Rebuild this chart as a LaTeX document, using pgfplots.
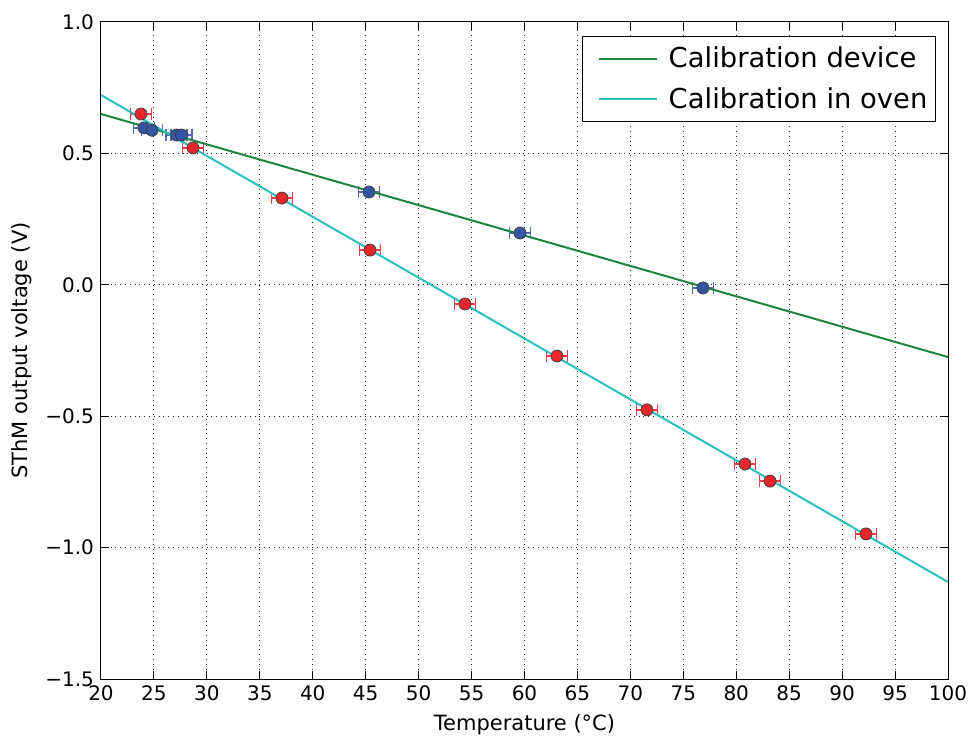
\documentclass[border=0pt]{standalone}
\usepackage{fontspec}
\setmainfont{DejaVu Sans}
\usepackage{pgfplots}
\pgfplotsset{compat=1.18}

\definecolor{devgreen}{RGB}{30,132,66}
\definecolor{ovencyan}{RGB}{40,192,192}
\definecolor{ptred}{RGB}{232,38,42}
\definecolor{ptblue}{RGB}{52,84,165}
\definecolor{barred}{RGB}{240,60,70}
\definecolor{barblue}{RGB}{85,105,190}

\begin{document}
\begin{tikzpicture}
\begin{axis}[
    scale only axis,
    width=423.5pt,
    height=328.5pt,
    xmin=20, xmax=100,
    ymin=-1.5, ymax=1.0,
    xtick={20,25,...,100},
    ytick={-1.5,-1.0,-0.5,0,0.5,1.0},
    yticklabels={−1.5,−1.0,−0.5,0.0,0.5,1.0},
    /pgf/number format/assume math mode=true,
    tick label style={font=\fontsize{10}{12}\selectfont},
    label style={font=\fontsize{10.5}{12}\selectfont},
    xlabel={Temperature (°C)},
    ylabel={SThM output voltage (V)},
    tick align=inside,
    major tick length=4pt,
    axis line style={black, line width=0.5pt},
    tick style={black, line width=0.5pt},
    grid=major,
    grid style={black!85, dotted, line width=0.5pt},
    legend cell align=left,
    legend style={at={(1,1)}, anchor=north east, xshift=-6pt, yshift=-7pt,
        draw=black, line width=0.6pt, font=\fontsize{13.7}{16}\selectfont,
        inner xsep=7.5pt, inner ysep=3pt, row sep=4.5pt,
        nodes={inner xsep=5.5pt}},
    legend image code/.code={%
        \path (0pt,0cm) -- (22pt,0cm);
        \draw[#1] (9pt,0cm) -- (29pt,0cm);},
]
% oven points
\addplot+[only marks, forget plot, mark=*, mark size=3pt,
    mark options={fill=ptred, draw=black!75, line width=0.4pt},
    error bars/.cd, x dir=both, x explicit, error mark=|,
    error bar style={barred, line width=0.8pt},
    error mark options={barred, mark size=3pt, line width=0.8pt}]
    coordinates {
(23.78,0.650) +- (1.0,0)
(28.69,0.521) +- (1.0,0)
(37.09,0.330) +- (1.0,0)
(45.41,0.132) +- (1.0,0)
(54.38,-0.073) +- (1.0,0)
(63.07,-0.271) +- (1.0,0)
(71.57,-0.476) +- (1.0,0)
(80.83,-0.682) +- (1.0,0)
(83.19,-0.747) +- (1.0,0)
(92.26,-0.948) +- (1.0,0)
};
% device points
\addplot+[only marks, forget plot, mark=*, mark size=3pt,
    mark options={fill=ptblue, draw=black!75, line width=0.4pt},
    error bars/.cd, x dir=both, x explicit, error mark=|,
    error bar style={barblue, line width=0.8pt},
    error mark options={barblue, mark size=3pt, line width=0.8pt}]
    coordinates {
(24.06,0.597) +- (1.0,0)
(24.82,0.588) +- (1.0,0)
(27.15,0.570) +- (1.0,0)
(27.60,0.570) +- (1.0,0)
(45.31,0.353) +- (1.0,0)
(59.58,0.197) +- (1.0,0)
(76.86,-0.012) +- (1.0,0)
};
% fitted lines
\addplot[devgreen, line width=1pt] coordinates {(20,0.650) (100,-0.275)};
\addlegendentry{Calibration device\hspace{-9pt}\mbox{}}
\addplot[ovencyan, line width=1pt] coordinates {(20,0.722) (100,-1.131)};
\addlegendentry{Calibration in oven\hspace{-9pt}\mbox{}}
\end{axis}
\pgfresetboundingbox
\path ([shift={(-50.5pt,-30.5pt)}]current axis.south west) rectangle ([shift={(14pt,11pt)}]current axis.north east);
\end{tikzpicture}
\end{document}
